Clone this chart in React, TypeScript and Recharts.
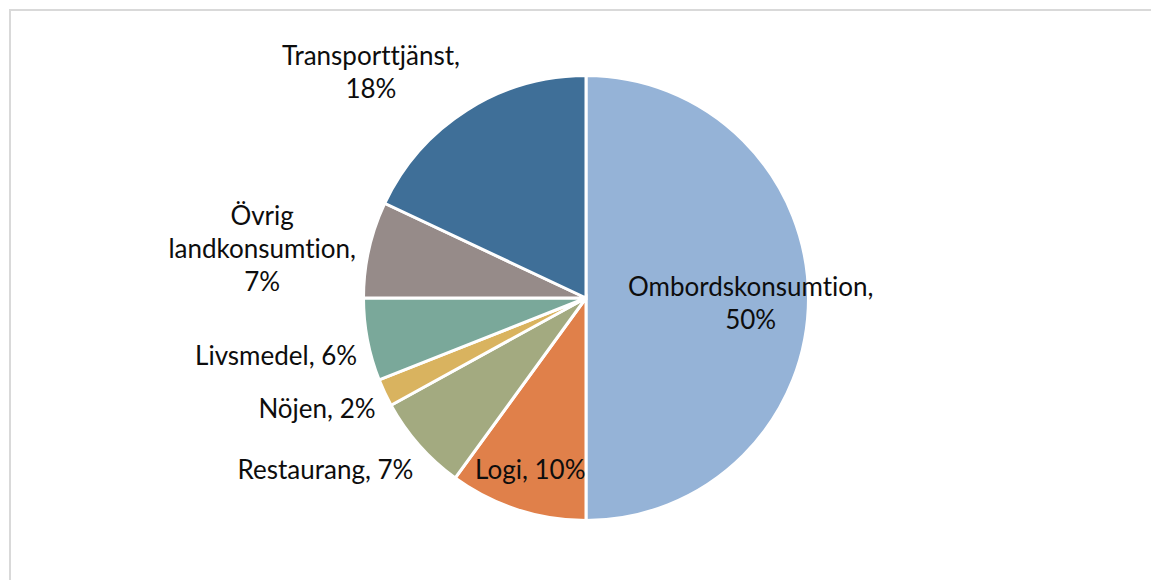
import React from "react";
import { PieChart, Pie, Cell } from "recharts";

const categories = [
  "Ombordskonsumtion",
  "Logi",
  "Restaurang",
  "Nöjen",
  "Livsmedel",
  "Övrig landkonsumtion",
  "Transporttjänst",
];
const shares = [50, 10, 7, 2, 6, 7, 18];
const labelLines = [
  ["Ombordskonsumtion,", "50%"],
  ["Logi, 10%"],
  ["Restaurang, 7%"],
  ["Nöjen, 2%"],
  ["Livsmedel, 6%"],
  ["Övrig", "landkonsumtion,", "7%"],
  ["Transporttjänst,", "18%"],
];

const colors = ["#95B3D7", "#E0804A", "#A3AA80", "#D9B35F", "#7AA89A", "#968B89", "#3F6F98"];

// label placement: distance along the slice's mid angle (x radius), nudge, anchor
const labelPlace = [
  { f: 0.74, dx: 0, dy: 4, anchor: "middle" },
  { f: 0.81, dx: 0, dy: 0, anchor: "middle" },
  { f: 1.1, dx: 11, dy: 9, anchor: "end" },
  { f: 1.08, dx: 7, dy: 8, anchor: "end" },
  { f: 1.07, dx: 5, dy: 12, anchor: "end" },
  { f: 1.45, dx: -9, dy: 20, anchor: "middle" },
  { f: 1.2, dx: -72, dy: -1, anchor: "middle" },
];

const data = categories.map((name, i) => ({ name, value: shares[i] }));

const RAD = Math.PI / 180;
const LINE_H = 33;

const renderLabel = (props: any) => {
  const { cx, cy, midAngle, outerRadius, index } = props;
  const p = labelPlace[index];
  const r = outerRadius * p.f;
  const x = cx + r * Math.cos(midAngle * RAD) + p.dx;
  const y = cy - r * Math.sin(midAngle * RAD) + p.dy;
  const lines = labelLines[index];
  const n = lines.length;
  return (
    <text
      x={x}
      y={y}
      textAnchor={p.anchor as any}
      fill="#0d0d0d"
      fontSize={26}
      fontFamily="Lato, sans-serif"
      style={{ fontVariantLigatures: "none" }}
    >
      {lines.map((t, i) => (
        <tspan key={i} x={x} y={y + (i - (n - 1) / 2) * LINE_H} dominantBaseline="central">
          {t}
        </tspan>
      ))}
    </text>
  );
};

export default function App() {
  return (
    <div
      style={{
        position: "absolute",
        left: 0,
        top: 0,
        width: 1151,
        height: 580,
        overflow: "hidden",
        background: "#fff",
      }}
    >
      <div
        style={{
          position: "absolute",
          left: 9,
          top: 9,
          width: 1200,
          height: 700,
          border: "2px solid #D9D9D9",
        }}
      />
      <div style={{ position: "absolute", left: 0, top: 0 }}>
        <PieChart width={1151} height={580} margin={{ top: 0, right: 0, bottom: 0, left: 0 }}>
          <Pie
            data={data}
            dataKey="value"
            nameKey="name"
            cx={586}
            cy={298}
            outerRadius={222.5}
            startAngle={90}
            endAngle={-270}
            stroke="#fff"
            strokeWidth={3}
            label={renderLabel}
            labelLine={false}
            isAnimationActive={false}
          >
            {data.map((d, i) => (
              <Cell key={d.name} fill={colors[i]} />
            ))}
          </Pie>
        </PieChart>
      </div>
    </div>
  );
}
